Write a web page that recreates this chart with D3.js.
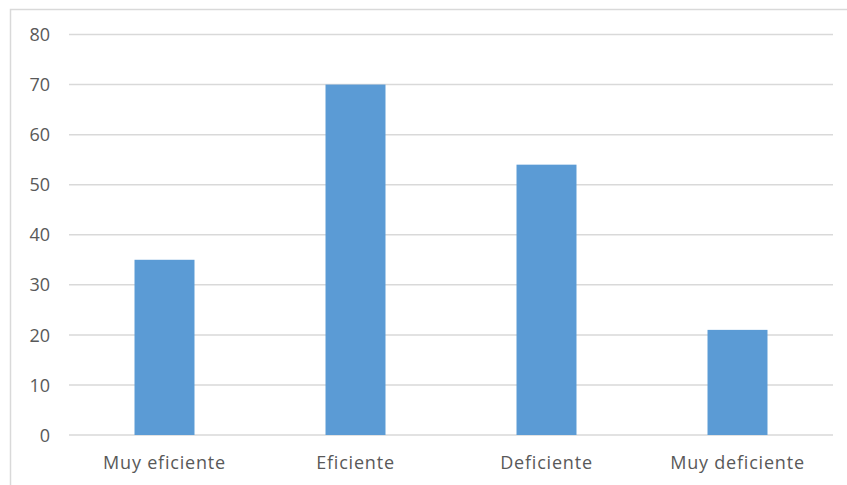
<!DOCTYPE html>
<html>
<head>
<meta charset="utf-8">
<script src="https://cdn.jsdelivr.net/npm/d3@7"></script>
<style>
  html, body { margin: 0; padding: 0; background: #fff; }
  svg { display: block; }
</style>
</head>
<body>
<svg id="chart" width="847" height="485"></svg>
<script>
// Category labels and their counts
const categories = ["Muy eficiente", "Eficiente", "Deficiente", "Muy deficiente"];
const values = [35, 70, 54, 21];
const yTicks = [0, 10, 20, 30, 40, 50, 60, 70, 80];

const svg = d3.select("#chart");
const W = 847, H = 485;
const margin = { left: 69, right: 14, top: 34.5, bottom: 50 };

// Chart-area frame
svg.append("rect")
  .attr("x", 10.5).attr("y", 9.5)
  .attr("width", W + 20).attr("height", H + 20)
  .attr("fill", "#fff")
  .attr("stroke", "#d9d9d9")
  .attr("stroke-width", 1.5);

const x = d3.scaleBand()
  .domain(categories)
  .range([margin.left, W - margin.right])
  .paddingInner(0.686)
  .paddingOuter(0.343);

const y = d3.scaleLinear()
  .domain([0, 80])
  .range([H - margin.bottom, margin.top]);

// Horizontal gridlines
svg.append("g")
  .selectAll("line")
  .data(yTicks)
  .join("line")
  .attr("x1", margin.left).attr("x2", W - margin.right)
  .attr("y1", d => y(d)).attr("y2", d => y(d))
  .attr("stroke", "#d9d9d9")
  .attr("stroke-width", 1.5);

// Bars
svg.append("g")
  .selectAll("rect")
  .data(categories)
  .join("rect")
  .attr("x", d => x(d))
  .attr("width", x.bandwidth())
  .attr("y", (d, i) => y(values[i]))
  .attr("height", (d, i) => y(0) - y(values[i]))
  .attr("fill", "#5b9bd5");

// Value axis labels
const yAxis = d3.axisLeft(y).tickValues(yTicks).tickSize(0).tickPadding(0).tickFormat(d3.format("d"));
const gy = svg.append("g")
  .attr("transform", `translate(${50},0)`)
  .call(yAxis);
gy.select(".domain").remove();
gy.selectAll("text")
  .attr("fill", "#595959")
  .attr("font-family", "'Open Sans', sans-serif")
  .attr("font-size", "18px")
  .attr("dy", "0.34em");

// Category axis labels
const xAxis = d3.axisBottom(x).tickSize(0).tickPadding(0);
const gx = svg.append("g")
  .attr("transform", `translate(0,${y(0)})`)
  .call(xAxis);
gx.select(".domain").remove();
gx.selectAll("text")
  .attr("fill", "#595959")
  .attr("font-family", "'Open Sans', sans-serif")
  .attr("font-size", "18px")
  .attr("letter-spacing", "0.8px")
  .attr("y", 34)
  .attr("dy", "0");
</script>
</body>
</html>
